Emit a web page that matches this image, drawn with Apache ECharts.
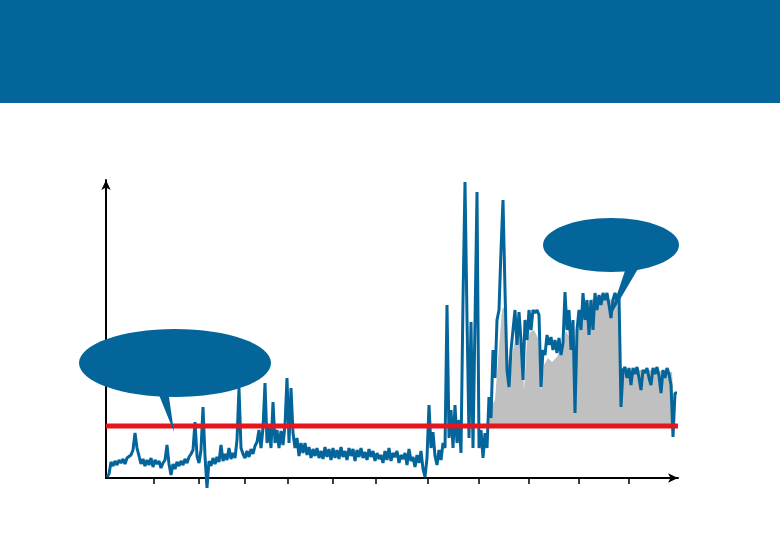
<!DOCTYPE html>
<html>
<head>
<meta charset="utf-8">
<script src="https://cdn.jsdelivr.net/npm/echarts@6/dist/echarts.min.js"></script>
<style>html,body{margin:0;padding:0;background:#fff}#c{width:780px;height:540px}</style>
</head>
<body>
<div id="c"></div>
<script>
// measured values, sampled every 2 time units starting at t = 1
var sampleStart = 1;
var sampleStep = 2;
var seriesY = [
 1,4,16,12,17,13,18,15,19,14,20,18,23,28,45,30,22,14,19,12,18,13,20,11,18,14,17,10,15,18,
 33,14,3,14,9,16,12,17,13,19,15,21,24,28,56,22,15,28,71,22,-10,17,12,20,14,21,16,33,17,24,
 18,30,19,25,20,38,90,30,24,20,27,21,29,24,32,36,48,30,50,95,35,50,30,76,35,48,30,47,33,53,
 100,35,90,45,30,40,22,35,25,35,23,31,20,29,22,30,20,27,19,31,21,29,18,30,20,28,19,31,21,27,
 18,30,22,29,17,28,21,30,20,26,18,29,21,27,17,25,19,23,15,27,18,30,17,25,21,27,15,23,19,25,
 13,29,17,21,11,23,15,27,9,1,20,73,30,46,22,13,28,18,35,30,173,40,68,30,73,35,58,25,178,296,
 160,40,156,30,156,286,30,48,20,45,30,81,60,128,100,158,168,228,278,188,108,91,128,148,168,133,166,138,98,158,
 138,168,148,168,165,168,163,91,128,123,143,133,141,128,138,125,140,123,135,186,148,168,128,158,65,148,168,148,185,158,
 178,143,178,148,185,168,183,173,185,178,185,173,160,178,185,178,183,71,108,111,100,110,93,110,104,111,
 100,88,108,105,110,100,93,110,104,111,102,85,108,100,110,104,93,41,85,85
];
// smoothed envelope of the shaded excess period
var shadeX = [383,386,389,392,396,399,401,404,407,410,413,416,418,421,424,428,432,435,438,442,446,450,454,457,460,464,467,469,472,476,480,484,489,494,499,504,509,513,514,519,544,566,569];
var shadeY = [52,73,78,118,168,173,138,98,128,143,148,143,88,138,146,148,140,88,113,120,116,120,126,133,148,138,128,65,148,173,168,178,180,178,182,178,182,178,111,108,108,106,52];
var threshold = 52;
var xTicks = [48,93,139,182,227,270,322,373,423,473,523];

var blue = '#04659b';
var chart = echarts.init(document.getElementById('c'), null, {renderer: 'canvas'});
var lineData = seriesY.map(function (v, i) { return [sampleStart + i * sampleStep, v]; });

chart.setOption({
  animation: false,
  backgroundColor: '#ffffff',
  grid: {left: 106, right: 102, top: 180, bottom: 62},
  xAxis: {
    type: 'value', min: 0, max: 572,
    axisLine: {show: true, lineStyle: {color: '#000', width: 2}, symbol: ['none', 'arrow'], symbolSize: [7, 10]},
    axisTick: {show: true, customValues: xTicks, length: 6, lineStyle: {color: '#000', width: 1.5}},
    axisLabel: {show: false},
    splitLine: {show: false}
  },
  yAxis: {
    type: 'value', min: 0, max: 298,
    axisLine: {show: true, lineStyle: {color: '#000', width: 2}, symbol: ['none', 'arrow'], symbolSize: [7, 10]},
    axisTick: {show: false},
    axisLabel: {show: false},
    splitLine: {show: false}
  },
  series: [
    {
      type: 'custom', z: 1,
      data: [[shadeX[0], threshold]],
      encode: {x: 0, y: 1},
      renderItem: function (params, api) {
        var pts = [api.coord([shadeX[0], threshold])];
        for (var i = 0; i < shadeX.length; i++) pts.push(api.coord([shadeX[i], shadeY[i]]));
        pts.push(api.coord([shadeX[shadeX.length - 1], threshold]));
        return {type: 'polygon', shape: {points: pts}, style: {fill: '#c0c0c0'}};
      }
    },
    {type: 'line', data: lineData, symbol: 'none', clip: false, lineStyle: {color: blue, width: 3}, z: 2},
    {type: 'line', data: [[0, threshold], [572, threshold]], symbol: 'none', lineStyle: {color: '#e8141c', width: 5}, z: 3}
  ],
  graphic: [
    {type: 'rect', shape: {x: 0, y: 0, width: 780, height: 103}, style: {fill: blue}, z: 100},
    {type: 'polygon', shape: {points: [[157, 390], [168, 390], [174, 432]]}, style: {fill: blue}, z: 100},
    {type: 'ellipse', shape: {cx: 175, cy: 363, rx: 96, ry: 34}, style: {fill: blue}, z: 100},
    {type: 'polygon', shape: {points: [[628, 262], [642, 262], [609, 318]]}, style: {fill: blue}, z: 100},
    {type: 'ellipse', shape: {cx: 611, cy: 245, rx: 68, ry: 27}, style: {fill: blue}, z: 100}
  ]
});
</script>
</body>
</html>
